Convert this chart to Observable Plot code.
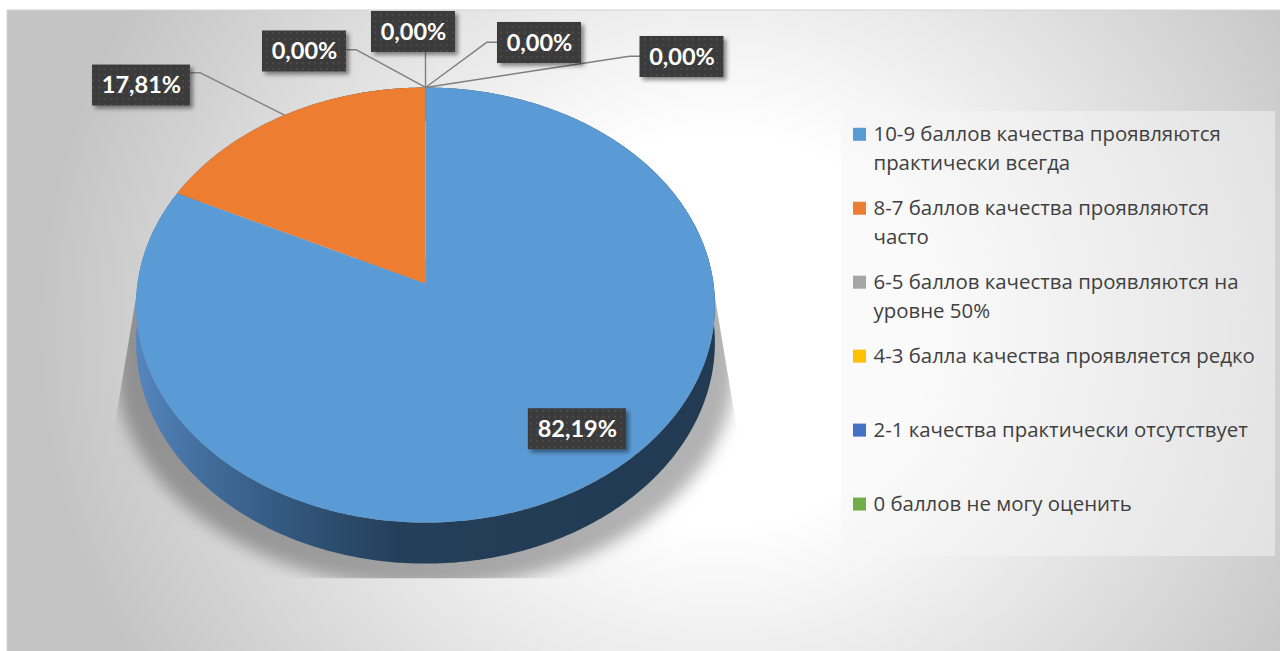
<!DOCTYPE html>
<html><head><meta charset="utf-8">
<script src="https://cdn.jsdelivr.net/npm/d3@7"></script>
<script src="https://cdn.jsdelivr.net/npm/@observablehq/plot@0.6"></script>
<style>html,body{margin:0;padding:0;background:#fff;overflow:hidden}</style>
</head><body><div id="chart"></div>
<script>
// ---- data ----
const categories = [
  "10-9 баллов качества проявляются практически всегда",
  "8-7 баллов качества проявляются часто",
  "6-5 баллов качества проявляются на уровне 50%",
  "4-3 балла качества проявляется редко",
  "2-1 качества практически отсутствует",
  "0 баллов не могу оценить"
];
const values = [82.19, 17.81, 0, 0, 0, 0];
const colors = ["#5b9bd5", "#ed7d31", "#a5a5a5", "#ffc000", "#4472c4", "#70ad47"];

// ---- layout (not data) ----
const W = 1280, H = 651;
const P = {cx: 425, cy: 283, A: 215.4, B: 288, p: 0.0989, D: 37};
const labelLayout = [
  {dx: -15, dy: -53.5, leader: null},
  {dx: -143, dy: -29.5, leader: "right", ly: -12.8},
  {dx: -121, dy: -36, leader: "right", ly: -1.7},
  {dx: -12, dy: -55.5, leader: "bottom"},
  {dx: 114, dy: -44.5, leader: "left", ly: -0.8},
  {dx: 256.5, dy: -30.5, leader: "left", ly: -0.8}
];
const legendLayout = {x0: 853, sw: 13, tx: 873, y0: 134.3, step: 73.95, lineStep: 28.7, maxW: 394,
  font: "Open Sans", size: 20.4};

// ---- geometry ----
function proj(a, r = 1, drop = 0) {
  const u = r * Math.sin(a), v = -r * Math.cos(a);
  const s = 1 / (1 - P.p * v);
  return [P.cx + P.B * u * s, P.cy + (P.A * v + drop) * s];
}
const rows = categories.map((c, i) => ({cat: c, value: values[i], i}));
const arcs = d3.pie().sort(null).value(d => d.value).startAngle(0).endAngle(2 * Math.PI)(rows);

function arcAngles(a0, a1) {
  const n = Math.max(1, Math.ceil((a1 - a0) / 0.01));
  return d3.range(n + 1).map(k => a0 + (a1 - a0) * k / n);
}
const facePts = [], sidePts = [];
arcs.forEach(arc => {
  const key = arc.data.cat;
  const angs = arcAngles(arc.startAngle, arc.endAngle);
  const c = proj(0, 0);
  facePts.push({key, x: c[0], y: c[1]});
  angs.forEach(a => { const [x, y] = proj(a); facePts.push({key, x, y}); });
  if (arc.value > 0) {
    angs.forEach(a => { const [x, y] = proj(a); sidePts.push({key, x, y}); });
    angs.slice().reverse().forEach(a => { const [x, y] = proj(a, 1, P.D); sidePts.push({key, x, y}); });
  }
});
// shadow silhouette (derived from the pie outline)
const shadowPts = d3.range(0, 361, 2).map(deg => {
  const a = deg * Math.PI / 180, v = -Math.cos(a);
  const [x, y] = proj(a, 1, v > 0.1 ? P.D : 0);
  return {x: P.cx + (x - P.cx) * 1.07, y: y + 24};
});

// labels
const fmt = v => v.toFixed(2).replace(".", ",") + "%";
const labels = arcs.map(arc => {
  const L = labelLayout[arc.data.i];
  const anchor = arc.value > 0 ? proj((arc.startAngle + arc.endAngle) / 2) : proj(arc.startAngle);
  const text = fmt(arc.value);
  const w = 14 * text.length + 14, h = 41;
  const cx = anchor[0] + L.dx, cy = anchor[1] + L.dy;
  return {i: arc.data.i, text, anchor, cx, cy, x1: cx - w / 2, x2: cx + w / 2, y1: cy - h / 2, y2: cy + h / 2, L};
});
const leaderPts = [];
labels.forEach(l => {
  const {L, anchor} = l;
  if (!L.leader) return;
  let pts;
  if (L.leader === "right") pts = [[l.x2, l.cy + L.ly], [l.x2 + 10, l.cy + L.ly], anchor];
  else if (L.leader === "left") pts = [[l.x1, l.cy + L.ly], [l.x1 - 10.5, l.cy + L.ly], anchor];
  else pts = [[anchor[0], l.y2], anchor];
  pts.forEach(p => leaderPts.push({id: l.i, x: p[0], y: p[1]}));
});

// legend wrapping
const ctx = document.createElement("canvas").getContext("2d");
ctx.font = `${legendLayout.size}px '${legendLayout.font}'`;
function wrap(text) {
  const words = text.split(" "), lines = [];
  let cur = "";
  for (const w of words) {
    const t = cur ? cur + " " + w : w;
    if (cur && ctx.measureText(t).width > legendLayout.maxW) { lines.push(cur); cur = w; } else cur = t;
  }
  lines.push(cur);
  return lines;
}
const legendItems = categories.map((c, i) => ({cat: c, yc: legendLayout.y0 + legendLayout.step * i}));
const legendLines = [];
legendItems.forEach(it => wrap(it.cat).forEach((t, j) => legendLines.push({text: t, y: it.yc + j * legendLayout.lineStep})));

const svg = Plot.plot({
  width: W, height: H, margin: 0,
  x: {domain: [0, W], range: [0, W], axis: null},
  y: {domain: [0, H], range: [0, H], axis: null},
  color: {domain: categories, range: colors, type: "ordinal"},
  style: {background: "white", overflow: "visible"},
  marks: [
    Plot.rect([0], {x1: 7, x2: W + 2, y1: 10, y2: H + 2, fill: "url(#bg)", stroke: "#d4d4d4", strokeWidth: 1}),
    Plot.line(shadowPts, {x: "x", y: "y", fill: "#000", fillOpacity: 0.3, stroke: "none"}),
    Plot.line(sidePts, {x: "x", y: "y", z: "key", fill: "url(#side)", stroke: "none"}),
    Plot.line(facePts, {x: "x", y: "y", z: "key", fill: "key", stroke: "none"}),
    Plot.line(leaderPts, {x: "x", y: "y", z: "id", stroke: "#7f7f7f", strokeWidth: 1.4, strokeLinecap: "butt", strokeLinejoin: "miter"}),
    Plot.rect(labels, {x1: "x1", x2: "x2", y1: "y1", y2: "y2", fill: "url(#dots)"}),
    Plot.text(labels, {x: "cx", y: "cy", text: "text", fill: "white", fontSize: 23.5, fontWeight: "bold", fontFamily: "Lato"}),
    Plot.rect([0], {x1: 841, x2: 1275, y1: 111, y2: 556, fill: "#f5f5f5", fillOpacity: 0.5}),
    Plot.rect(legendItems, {x1: legendLayout.x0, x2: legendLayout.x0 + legendLayout.sw,
      y1: d => d.yc - legendLayout.sw / 2, y2: d => d.yc + legendLayout.sw / 2, fill: "cat"}),
    Plot.text(legendLines, {x: legendLayout.tx, y: "y", text: "text", textAnchor: "start", fill: "#404040",
      fontSize: legendLayout.size, fontFamily: legendLayout.font})
  ]
});

const markGroups = Array.from(svg.children).filter(n => n.tagName.toLowerCase() === "g");
const defs = `
<defs>
  <radialGradient id="bg" gradientUnits="userSpaceOnUse" cx="0" cy="0" r="1" gradientTransform="translate(720,330) scale(680,650)">
    <stop offset="0" stop-color="#ffffff"/>
    <stop offset="0.3" stop-color="#ffffff"/>
    <stop offset="1" stop-color="#c4c4c4"/>
  </radialGradient>
  <linearGradient id="side" gradientUnits="userSpaceOnUse" x1="135" y1="0" x2="715" y2="0">
    <stop offset="0" stop-color="#5586be"/>
    <stop offset="0.12" stop-color="#416d9b"/>
    <stop offset="0.28" stop-color="#31557a"/>
    <stop offset="0.45" stop-color="#243f5a"/>
    <stop offset="1" stop-color="#223a52"/>
  </linearGradient>
  <pattern id="dots" width="6" height="6" patternUnits="userSpaceOnUse">
    <rect width="6" height="6" fill="#3b3b3b"/>
    <circle cx="3" cy="3" r="0.8" fill="#575757"/>
  </pattern>
  <filter id="blur" filterUnits="userSpaceOnUse" x="0" y="0" width="1280" height="651"><feGaussianBlur stdDeviation="8"/></filter>
  <filter id="drop" x="-20%" y="-30%" width="150%" height="170%"><feDropShadow dx="3" dy="3" stdDeviation="2" flood-color="#000" flood-opacity="0.45"/></filter>
  <clipPath id="shclip" clipPathUnits="userSpaceOnUse"><polygon points="142,258 708,258 737,432 737,578 113,578 113,432"/></clipPath>
</defs>`;
const s = d3.select(svg);
s.insert("g", ":first-child").html(defs);
d3.select(markGroups[1]).attr("clip-path", "url(#shclip)").selectAll("path").attr("filter", "url(#blur)");
d3.select(markGroups[5]).attr("filter", "url(#drop)");
document.getElementById("chart").appendChild(svg);
</script>
</body></html>
